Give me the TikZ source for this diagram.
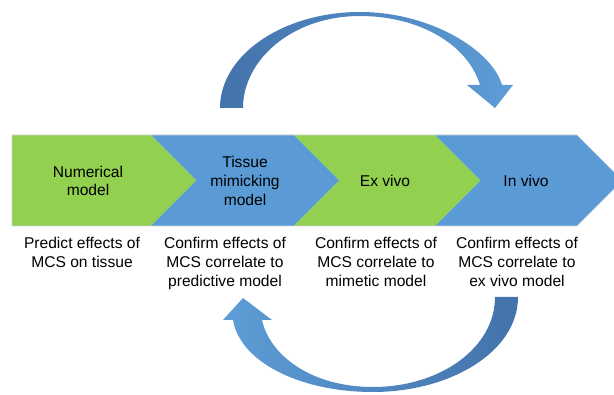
\documentclass[tikz,border=0pt]{standalone}
\usepackage{fontspec}
\setmainfont{Liberation Sans}
\definecolor{chgreen}{RGB}{146,208,80}
\definecolor{chblue}{RGB}{91,155,213}
\definecolor{arrdark}{RGB}{68,114,170}
\definecolor{arrlight}{RGB}{93,157,215}
\definecolor{edgegray}{RGB}{205,212,220}
\tikzset{
  chev/.style={draw=edgegray, line width=0.6pt},
  lbl/.style={font=\fontsize{15.6}{18.8}\selectfont, align=center, text=black, inner sep=0pt},
}
\begin{document}
\begin{tikzpicture}[x=1pt,y=-1pt]
\useasboundingbox (0,0) rectangle (614,395);
\clip (0,0) rectangle (614,395);
% chevrons
\fill[chgreen] (12,135) -- (151,135) -- (196.5,180.5) -- (151,226) -- (12,226) -- cycle;
\fill[chblue] (151,135) -- (294,135) -- (339.5,180.5) -- (294,226) -- (151,226) -- (196.5,180.5) -- cycle;
\fill[chgreen] (294,135) -- (435,135) -- (480.5,180.5) -- (435,226) -- (294,226) -- (339.5,180.5) -- cycle;
\fill[chblue] (435,135) -- (577,135) -- (622.5,180.5) -- (577,226) -- (435,226) -- (480.5,180.5) -- cycle;
\draw[chev] (12,135) -- (577,135) -- (622.5,180.5) -- (577,226) -- (12,226) -- cycle;
% chevron labels
\node[lbl] (n1) at (88,181) {Numerical\\model};
\node[lbl] (n2) at (245,181) {Tissue\\mimicking\\model};
\node[lbl] (n3) at (385,181) {Ex vivo};
\node[lbl] (n4) at (526,181) {In vivo};
% lower labels
\node[lbl, anchor=north] (d1) at (82,237) {Predict effects of\\MCS on tissue};
\node[lbl, anchor=north] (d2) at (225,237) {Confirm effects of\\MCS correlate to\\predictive model};
\node[lbl, anchor=north] (d3) at (376,237) {Confirm effects of\\MCS correlate to\\mimetic model};
\node[lbl, anchor=north] (d4) at (517,237) {Confirm effects of\\MCS correlate to\\ex vivo model};
% top curved arrow
\shade[left color=arrdark, right color=arrlight]
  (220,108) .. controls (220,55) and (283,12) .. (360,12)
  .. controls (430,12) and (492,50) .. (502,85)
  -- (513,85) -- (495,108) -- (467,85) -- (480,85)
  .. controls (468,45) and (420,16) .. (360,16)
  .. controls (292,16) and (243,60) .. (243,108) -- cycle;
% bottom curved arrow
\shade[left color=arrlight, right color=arrdark]
  (518,297) .. controls (518,352) and (450,392) .. (373,392)
  .. controls (300,392) and (240,362) .. (233,320)
  -- (223,320) -- (243,298) -- (272,320) -- (262,320)
  .. controls (270,356) and (312,387) .. (373,387)
  .. controls (440,387) and (495,348) .. (495,297) -- cycle;
\end{tikzpicture}
\end{document}
